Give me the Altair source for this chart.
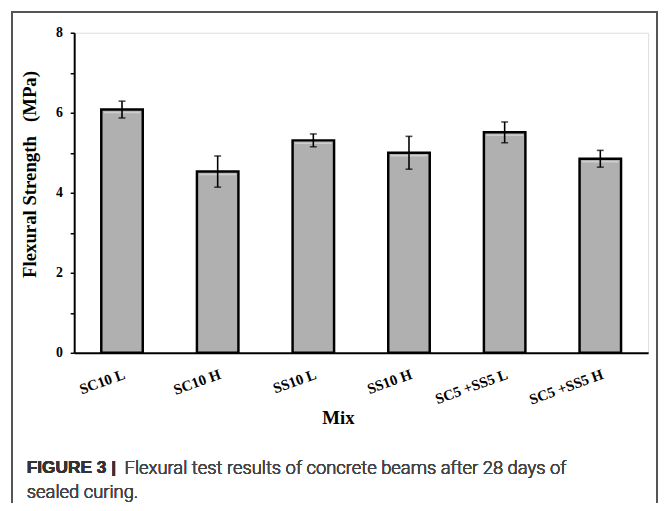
import altair as alt
import pandas as pd

mixes = ["SC10 L", "SC10 H", "SS10 L", "SS10 H", "SC5 +SS5 L", "SC5 +SS5 H"]
strength = [6.08, 4.53, 5.31, 5.00, 5.51, 4.85]
error = [0.21, 0.39, 0.16, 0.41, 0.26, 0.21]
y_ticks = [v / 2 for v in range(0, 17)]

caption_bold = "FIGURE 3 |"
caption_line1 = "Flexural test results of concrete beams after 28 days of"
caption_line2 = "sealed curing."

df = pd.DataFrame({"Mix": mixes, "Strength": strength, "Err": error})
df["lo"] = df["Strength"] - df["Err"]
df["hi"] = df["Strength"] + df["Err"]

SERIF = "Liberation Serif"
SANS = "Roboto"

x_enc = alt.X(
    "Mix:N",
    sort=mixes,
    scale=alt.Scale(paddingInner=0, paddingOuter=0),
    axis=alt.Axis(
        title="Mix",
        labelAngle=-20,
        labelAlign="right",
        labelBaseline="top",
        labelPadding=14,
        labelFont=SERIF,
        labelFontWeight="bold",
        labelFontSize=15,
        labelColor="black",
        ticks=False,
        domainColor="black",
        domainWidth=2,
        titleFont=SERIF,
        titleFontWeight="bold",
        titleFontSize=19,
        titleColor="black",
        titleX=267,
        titleY=66,
        titleBaseline="middle",
        titleAlign="center",
    ),
)

y_scale = alt.Scale(domain=[0, 8], nice=False)
y_axis = alt.Axis(
    title="Flexural Strength\u00a0\u00a0\u00a0(MPa)",
    values=y_ticks,
    labelExpr="datum.value % 2 == 0 ? datum.label : ''",
    labelFont=SERIF,
    labelFontWeight="bold",
    labelFontSize=14,
    labelColor="black",
    labelPadding=8,
    tickSize=4,
    tickWidth=1.5,
    tickColor="black",
    domainColor="black",
    domainWidth=2,
    grid=False,
    titleFont=SERIF,
    titleFontWeight="bold",
    titleFontSize=19,
    titleColor="black",
    titleX=-45,
    titleY=143,
    titleBaseline="middle",
    titleAlign="center",
    titleAngle=-90,
)

base = alt.Chart(df)

bars = base.mark_bar(size=42, fill="#b0b0b0", stroke="black", strokeWidth=2.5).encode(
    x=x_enc,
    y=alt.Y("Strength:Q", scale=y_scale, axis=y_axis),
)

highlight = base.mark_tick(color="#dcdcdc", size=37, thickness=1.5, yOffset=3).encode(
    x=alt.X("Mix:N", sort=mixes),
    y=alt.Y("Strength:Q"),
)

rules = base.mark_rule(color="black", strokeWidth=1.6).encode(
    x=alt.X("Mix:N", sort=mixes),
    y=alt.Y("lo:Q"),
    y2="hi:Q",
)
cap_lo = base.mark_tick(color="black", size=7, thickness=1.6).encode(
    x=alt.X("Mix:N", sort=mixes), y=alt.Y("lo:Q")
)
cap_hi = base.mark_tick(color="black", size=7, thickness=1.6).encode(
    x=alt.X("Mix:N", sort=mixes), y=alt.Y("hi:Q")
)

frame = base.mark_rect(fill="transparent", stroke="#555555", strokeWidth=1.5).encode(
    x=alt.value(-63), x2=alt.value(590), y=alt.value(-21), y2=alt.value(600)
)

cap1 = base.mark_text(
    font="Liberation Sans", fontSize=17.5, fontWeight="bold", color="#333333",
    align="left", baseline="middle"
).encode(x=alt.value(-48), y=alt.value(441), text=alt.value(caption_bold))
cap2 = base.mark_text(
    font=SANS, fontSize=18.6, fontWeight=300, color="#444444", align="left", baseline="middle"
).encode(x=alt.value(51), y=alt.value(441), text=alt.value(caption_line1))
cap3 = base.mark_text(
    font=SANS, fontSize=18.6, fontWeight=300, color="#444444", align="left", baseline="middle"
).encode(x=alt.value(-48), y=alt.value(465), text=alt.value(caption_line2))

chart = (
    alt.layer(frame, bars, highlight, rules, cap_lo, cap_hi, cap1, cap2, cap3)
    .properties(
        width=581,
        height=324,
        autosize=alt.AutoSizeParams(type="none"),
        padding={"left": 67, "top": 22, "right": 11, "bottom": 149},
    )
    .configure_view(stroke=None)
    .configure(background="white")
)

chart.save("out.html", embed_options={"renderer": "svg", "actions": False})
